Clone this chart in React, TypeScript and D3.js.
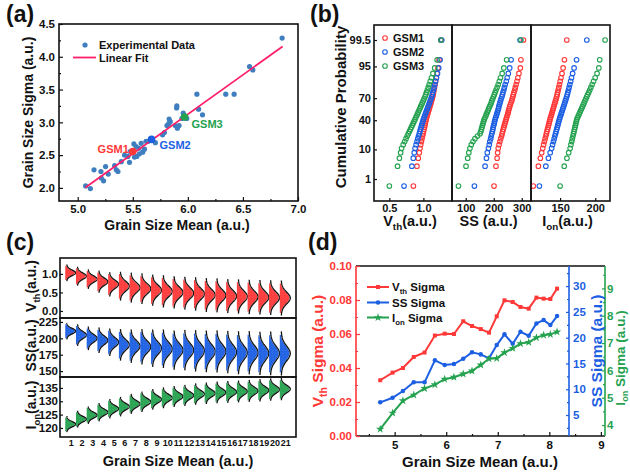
import * as d3 from "d3";
import { useEffect, useRef } from "react";

const FONT = "'Liberation Sans', Arial, Helvetica, sans-serif";
const INK = "#111";
const RED = "#ff3838";
const BLUE = "#1c5fe3";
const GREEN = "#25a24f";
const DOT = "#3f7fc0";
const FIT = "#ff1f68";

// ---------- (a) grain size mean vs sigma ----------
const grainMean = [5.072, 5.115, 5.148, 5.211, 5.214, 5.235, 5.253, 5.277, 5.335, 5.35, 5.365, 5.395, 5.425, 5.455, 5.47, 5.476, 5.51, 5.515, 5.53, 5.536, 5.554, 5.56, 5.576, 5.59, 5.606, 5.62, 5.64, 5.705, 5.77, 5.787, 5.81, 5.826, 5.83, 5.84, 5.886, 5.898, 5.9, 5.905, 5.92, 5.946, 5.958, 5.99, 6.082, 6.097, 6.133, 6.344, 6.42, 6.56, 6.59, 6.856];
const grainSigma = [2.03, 1.99, 2.275, 2.25, 2.15, 2.107, 2.325, 2.21, 2.34, 2.275, 2.25, 2.4, 2.5, 2.48, 2.39, 2.555, 2.67, 2.47, 2.63, 2.48, 2.605, 2.52, 2.68, 2.545, 2.59, 2.71, 2.71, 2.69, 2.81, 2.845, 2.95, 2.98, 3.05, 3.01, 2.95, 3.22, 3.25, 2.91, 2.95, 3.06, 3.14, 3.06, 3.43, 3.2, 3.115, 3.43, 3.43, 3.85, 3.8, 4.285];
const fitX = [5.07, 6.86];
const fitY = [2.005, 4.157];
const gsmNames = ["GSM1", "GSM2", "GSM3"];
const gsmMean = [5.5, 5.67, 5.97];
const gsmSigma = [2.555, 2.74, 3.08];

// ---------- (b) cumulative probability ----------
const probTicks = [1, 10, 40, 70, 95, 99.5];
const vthGSM1 = [0.853, 0.905, 0.925, 0.939, 0.95, 0.961, 0.971, 0.979, 0.988, 0.995, 1.002, 1.009, 1.016, 1.022, 1.028, 1.034, 1.04, 1.047, 1.055, 1.063, 1.071, 1.079, 1.087, 1.095, 1.103, 1.111, 1.119, 1.128, 1.137, 1.143, 1.149, 1.156, 1.163, 1.171, 1.179, 1.189, 1.201, 1.214, 1.23, 1.256];
const vthGSM2 = [0.716, 0.831, 0.852, 0.866, 0.878, 0.893, 0.906, 0.918, 0.929, 0.94, 0.949, 0.958, 0.967, 0.975, 0.984, 0.992, 1.0, 1.009, 1.019, 1.029, 1.039, 1.049, 1.059, 1.068, 1.079, 1.089, 1.1, 1.111, 1.122, 1.13, 1.138, 1.147, 1.157, 1.167, 1.179, 1.192, 1.207, 1.225, 1.245, 1.27];
const vthGSM3 = [0.5, 0.621, 0.648, 0.666, 0.68, 0.704, 0.725, 0.745, 0.763, 0.779, 0.795, 0.81, 0.824, 0.838, 0.851, 0.864, 0.877, 0.889, 0.901, 0.913, 0.924, 0.936, 0.948, 0.96, 0.972, 0.984, 0.997, 1.01, 1.024, 1.035, 1.046, 1.058, 1.071, 1.085, 1.101, 1.118, 1.14, 1.166, 1.202, 1.256];
const ssGSM1 = [201, 208, 212, 214, 216, 219, 222, 225, 228, 230, 232, 234, 236, 238, 240, 242, 244, 246, 248, 250, 252, 253, 255, 257, 259, 261, 264, 266, 268, 270, 272, 275, 277, 280, 283, 286, 290, 295, 297, 306];
const ssGSM2 = [131, 169, 174, 177, 181, 184, 186, 189, 191, 193, 195, 197, 198, 200, 202, 203, 205, 207, 209, 211, 213, 215, 217, 218, 220, 222, 224, 226, 229, 231, 233, 236, 238, 241, 245, 248, 252, 257, 262, 294];
const ssGSM3 = [74, 101, 107, 111, 115, 120, 126, 133, 142, 151, 154, 156, 158, 160, 162, 164, 166, 169, 172, 174, 177, 180, 182, 185, 188, 191, 193, 196, 199, 202, 205, 208, 212, 216, 220, 224, 230, 236, 246, 297];
const ionGSM1 = [111.9, 119.1, 121.9, 123.8, 125.3, 126.5, 127.7, 128.7, 129.7, 130.5, 131.3, 132.1, 132.9, 133.6, 134.3, 135.0, 135.7, 136.4, 137.2, 138.0, 138.7, 139.5, 140.2, 141.0, 141.8, 142.6, 143.4, 144.3, 145.1, 145.8, 146.5, 147.3, 148.2, 149.1, 150.1, 151.3, 152.7, 154.3, 156.2, 159.5];
const ionGSM2 = [120.5, 129.7, 133.4, 135.9, 137.9, 139.3, 140.5, 141.6, 142.6, 143.5, 144.4, 145.2, 146.0, 146.8, 147.5, 148.2, 149.0, 149.8, 150.6, 151.5, 152.3, 153.2, 154.0, 154.9, 155.8, 156.6, 157.5, 158.4, 159.4, 160.2, 161.0, 161.9, 162.8, 163.8, 165.0, 166.2, 167.8, 169.9, 173.4, 188.0];
const ionGSM3 = [150.0, 155.9, 159.7, 162.2, 164.3, 165.4, 166.5, 167.4, 168.3, 169.1, 169.8, 170.5, 171.2, 171.9, 172.5, 173.2, 173.8, 174.9, 176.0, 177.2, 178.3, 179.4, 180.6, 181.8, 183.0, 184.1, 185.3, 186.6, 187.9, 189.2, 190.7, 192.2, 193.8, 195.6, 197.6, 199.9, 202.6, 205.1, 206.4, 214.0];

// ---------- (c) distributions per grain size group ----------
const groupLabels = [1, 2, 3, 4, 5, 6, 7, 8, 9, 10, 11, 12, 13, 14, 15, 16, 17, 18, 19, 20, 21];
const vthMeanC = [1.03, 0.94, 0.86, 0.79, 0.72, 0.67, 0.63, 0.6, 0.56, 0.53, 0.5, 0.48, 0.46, 0.43, 0.42, 0.4, 0.39, 0.38, 0.37, 0.36, 0.35];
const vthSdC = [0.075, 0.085, 0.088, 0.1, 0.11, 0.13, 0.135, 0.138, 0.14, 0.145, 0.145, 0.148, 0.15, 0.152, 0.153, 0.153, 0.154, 0.155, 0.155, 0.156, 0.157];
const ssMeanC = [211, 205, 200, 197, 194, 190, 188, 187, 185, 184, 182, 182, 181, 180, 180, 179, 178, 178, 177, 177, 177];
const ssSdC = [4.2, 5.5, 6.0, 6.5, 7.0, 8.0, 8.5, 9.0, 9.5, 9.8, 10.0, 10.3, 10.5, 10.6, 10.7, 10.8, 10.9, 11.0, 11.0, 11.1, 11.2];
const ionMeanC = [121.4, 123.3, 124.8, 125.9, 127.2, 128.0, 129.0, 129.8, 130.7, 131.3, 131.8, 132.2, 132.7, 133.0, 133.3, 133.5, 133.7, 133.9, 134.1, 134.4, 134.6];
const ionSdC = [1.0, 1.05, 1.1, 1.15, 1.2, 1.22, 1.25, 1.27, 1.28, 1.3, 1.31, 1.32, 1.33, 1.34, 1.35, 1.36, 1.37, 1.38, 1.39, 1.4, 1.4];

// ---------- (d) sigma vs grain size mean ----------
const gsMeanD = [4.72, 4.96, 5.16, 5.37, 5.58, 5.78, 5.97, 6.15, 6.33, 6.5, 6.67, 6.83, 6.98, 7.13, 7.29, 7.44, 7.6, 7.75, 7.89, 8.02, 8.15];
const vthSigmaD = [0.0328, 0.0373, 0.04, 0.0465, 0.0491, 0.0591, 0.0602, 0.06, 0.0675, 0.0647, 0.0629, 0.0608, 0.0704, 0.0798, 0.0788, 0.0759, 0.0749, 0.0814, 0.0808, 0.0806, 0.0867];
const ssSigmaD = [7.46, 8.35, 9.65, 11.34, 11.34, 15.6, 14.69, 14.88, 15.91, 17.15, 16.76, 15.99, 18.57, 20.64, 18.82, 21.14, 20.37, 22.77, 23.41, 22.44, 24.19];
const ionSigmaD = [3.85, 4.44, 4.89, 5.1, 5.34, 5.48, 5.68, 5.75, 5.87, 5.98, 6.2, 6.43, 6.44, 6.65, 6.81, 6.98, 7.03, 7.2, 7.29, 7.32, 7.41];

// inverse normal CDF (Acklam), used for the probability axis
function probit(p: number) {
  const a = [-39.69683028665376, 220.9460984245205, -275.9285104469687, 138.357751867269, -30.66479806614716, 2.506628277459239];
  const b = [-54.47609879822406, 161.5858368580409, -155.6989798598866, 66.80131188771972, -13.28068155288572];
  const c = [-0.007784894002430293, -0.3223964580411365, -2.400758277161838, -2.549732539343734, 4.374664141464968, 2.938163982698783];
  const d = [0.007784695709041462, 0.3224671290700398, 2.445134137142996, 3.754408661907416];
  const lo = 0.02425;
  if (p < lo || p > 1 - lo) {
    const q = Math.sqrt(-2 * Math.log(p < lo ? p : 1 - p));
    const v = (((((c[0] * q + c[1]) * q + c[2]) * q + c[3]) * q + c[4]) * q + c[5]) / ((((d[0] * q + d[1]) * q + d[2]) * q + d[3]) * q + 1);
    return p < lo ? v : -v;
  }
  const q = p - 0.5, r = q * q;
  return ((((((a[0] * r + a[1]) * r + a[2]) * r + a[3]) * r + a[4]) * r + a[5]) * q) / (((((b[0] * r + b[1]) * r + b[2]) * r + b[3]) * r + b[4]) * r + 1);
}

function styleAxis(sel: any, size: number, color = INK) {
  sel.attr("font-family", FONT);
  sel.select(".domain").remove();
  sel.selectAll(".tick line").attr("stroke", color).attr("stroke-width", 1.2);
  sel.selectAll(".tick text").attr("font-size", size).attr("font-weight", "bold").attr("fill", color);
  return sel;
}

function text(g: any, x: number, y: number, parts: any, size: number, opt: any = {}) {
  const t = g.append("text")
    .attr("x", x).attr("y", y)
    .attr("font-family", FONT).attr("font-weight", "bold")
    .attr("font-size", size)
    .attr("fill", opt.fill || INK)
    .attr("text-anchor", opt.anchor || "start");
  if (opt.rotate) t.attr("transform", `rotate(${opt.rotate},${x},${y})`);
  const list = typeof parts === "string" ? [[parts, false]] : parts;
  const shift = size * (opt.subShift ?? 0.28);
  let wasSub = false;
  list.forEach(([s, sub]: [string, boolean]) => {
    const ts = t.append("tspan").text(s);
    if (sub) ts.attr("font-size", size * 0.68).attr("dy", shift);
    else if (wasSub) ts.attr("dy", -shift);
    wasSub = sub;
  });
  return t;
}

function drawA(svg: any) {
  const L = 59, R = 298, T = 24, B = 201;
  const x = d3.scaleLinear().domain([4.83, 7.0]).range([L, R]);
  const y = d3.scaleLinear().domain([1.8, 4.5]).range([B, T]);
  const g = svg.append("g");

  styleAxis(g.append("g").attr("transform", `translate(0,${B})`)
    .call(d3.axisBottom(x).tickValues([5, 5.5, 6, 6.5, 7]).tickFormat(d3.format(".1f")).tickSizeInner(-4).tickSizeOuter(0).tickPadding(4)), 11.5);
  styleAxis(g.append("g").attr("transform", `translate(0,${B})`)
    .call(d3.axisBottom(x).tickValues([5.25, 5.75, 6.25, 6.75]).tickFormat(() => "").tickSizeInner(-2).tickSizeOuter(0)), 11.5);
  styleAxis(g.append("g").attr("transform", `translate(${L},0)`)
    .call(d3.axisLeft(y).tickValues([2, 2.5, 3, 3.5, 4, 4.5]).tickFormat(d3.format(".1f")).tickSizeInner(-4).tickSizeOuter(0).tickPadding(4)), 11.5);
  styleAxis(g.append("g").attr("transform", `translate(${L},0)`)
    .call(d3.axisLeft(y).tickValues([2.25, 2.75, 3.25, 3.75, 4.25]).tickFormat(() => "").tickSizeInner(-2).tickSizeOuter(0)), 11.5);

  g.append("g").selectAll("circle").data(grainMean).join("circle")
    .attr("cx", (d: number) => x(d)).attr("cy", (_: number, i: number) => y(grainSigma[i]))
    .attr("r", 2.6).attr("fill", DOT);

  g.append("line")
    .attr("x1", x(fitX[0])).attr("y1", y(fitY[0])).attr("x2", x(fitX[1])).attr("y2", y(fitY[1]))
    .attr("stroke", FIT).attr("stroke-width", 1.8);

  const cols = [RED, BLUE, GREEN];
  const dx = [-4, 8, 7], dy = [1, 10, 11], anc = ["end", "start", "start"];
  gsmMean.forEach((m, i) => {
    g.append("circle").attr("cx", x(m)).attr("cy", y(gsmSigma[i])).attr("r", 3.8).attr("fill", cols[i]);
    text(g, x(m) + dx[i], y(gsmSigma[i]) + dy[i], gsmNames[i], 11, { fill: cols[i], anchor: anc[i] });
  });

  // legend
  g.append("circle").attr("cx", 85).attr("cy", 45).attr("r", 2.6).attr("fill", DOT);
  text(g, 99, 49, "Experimental Data", 11);
  g.append("line").attr("x1", 73).attr("x2", 96).attr("y1", 57.5).attr("y2", 57.5).attr("stroke", FIT).attr("stroke-width", 1.8);
  text(g, 99, 61.5, "Linear Fit", 11);

  g.append("rect").attr("x", L).attr("y", T).attr("width", R - L).attr("height", B - T)
    .attr("fill", "none").attr("stroke", INK).attr("stroke-width", 1.6);

  text(g, 6, 22, "(a)", 23);
  text(g, 33, (T + B) / 2, "Grain Size Sigma (a.u.)", 14, { anchor: "middle", rotate: -90 });
  text(g, 177, 230, "Grain Size Mean (a.u.)", 14, { anchor: "middle" });
}

function drawB(svg: any) {
  const T = 25, B = 201;
  const y = d3.scaleLinear().domain([-3.102, 3.105]).range([B, T]);
  const cols = [RED, BLUE, GREEN];
  const panels = [
    { L: 374, R: 452, dom: [0.275, 1.42], ticks: [0.5, 1.0], fmt: ".1f", series: [vthGSM1, vthGSM2, vthGSM3], title: [["V", false], ["th", true], ["(a.u.)", false]] },
    { L: 452, R: 531, dom: [51, 333], ticks: [100, 200, 300], fmt: "d", series: [ssGSM1, ssGSM2, ssGSM3], title: [["SS (a.u.)", false]] },
    { L: 531, R: 610, dom: [108.6, 221], ticks: [150, 200], fmt: "d", series: [ionGSM1, ionGSM2, ionGSM3], title: [["I", false], ["on", true], ["(a.u.)", false]] },
  ];
  const g = svg.append("g");
  panels.forEach((pn) => {
    const x = d3.scaleLinear().domain(pn.dom).range([pn.L, pn.R]);
    styleAxis(g.append("g").attr("transform", `translate(0,${B})`)
      .call(d3.axisBottom(x).tickValues(pn.ticks).tickFormat(d3.format(pn.fmt)).tickSizeInner(-3).tickSizeOuter(0).tickPadding(3)), 11);
    pn.series.forEach((s, k) => {
      const n = s.length;
      g.append("g").selectAll("circle").data(s).join("circle")
        .attr("cx", (d: number) => x(d))
        .attr("cy", (_: number, i: number) => y(probit(0.005 + (i * 0.99) / (n - 1))))
        .attr("r", 2.3).attr("fill", "none").attr("stroke", cols[k]).attr("stroke-width", 1.1);
    });
    g.append("rect").attr("x", pn.L).attr("y", T).attr("width", pn.R - pn.L).attr("height", B - T)
      .attr("fill", "none").attr("stroke", INK).attr("stroke-width", 1.6);
    text(g, (pn.L + pn.R) / 2 - 3, 226, pn.title, 14.5, { anchor: "middle" });
  });
  styleAxis(g.append("g").attr("transform", `translate(374,0)`)
    .call(d3.axisLeft(y).tickValues(probTicks.map((t) => probit(t / 100))).tickFormat((_: any, i: number) => String(probTicks[i])).tickSizeInner(-3).tickSizeOuter(0).tickPadding(3)), 11);

  gsmNames.forEach((nm, i) => {
    g.append("circle").attr("cx", 385).attr("cy", 38 + i * 14).attr("r", 2.3).attr("fill", "none").attr("stroke", cols[i]).attr("stroke-width", 1.1);
    text(g, 393, 42 + i * 14, nm, 11);
  });

  text(g, 310, 22, "(b)", 23);
  text(g, 346, (T + B) / 2 - 6, "Cumulative Probability", 15, { anchor: "middle", rotate: -90 });
}

function drawC(svg: any) {
  const L = 60, R = 296;
  const x = d3.scaleLinear().domain([0, 22]).range([L, R]);
  const rows = [
    { T: 258, B: 318, dom: [-0.19, 1.43], ticks: [0, 0.5, 1.0], fmt: ".1f", means: vthMeanC, sds: vthSdC, color: RED, title: [["V", false], ["th", true], ["(a.u.)", false]] },
    { T: 318, B: 377, dom: [141, 231], ticks: [150, 175, 200, 225], fmt: "d", means: ssMeanC, sds: ssSdC, color: BLUE, title: [["SS(a.u.)", false]] },
    { T: 377, B: 437, dom: [116.6, 139.1], ticks: [120, 125, 130, 135], fmt: "d", means: ionMeanC, sds: ionSdC, color: GREEN, title: [["I", false], ["on", true], ["(a.u.)", false]] },
  ];
  const g = svg.append("g");
  const defs = g.append("defs");
  const ts = d3.range(-3, 3.001, 0.1);
  rows.forEach((rw, ri) => {
    const y = d3.scaleLinear().domain(rw.dom).range([rw.B, rw.T]);
    const clipId = `clipc${ri}`;
    defs.append("clipPath").attr("id", clipId).append("rect").attr("x", L).attr("y", rw.T).attr("width", R - L).attr("height", rw.B - rw.T);
    // speckled fill imitating the overlaid raw points
    const pat = defs.append("pattern").attr("id", `spk${ri}`).attr("patternUnits", "userSpaceOnUse").attr("width", 3.4).attr("height", 2.8);
    pat.append("rect").attr("width", 3.4).attr("height", 2.8).attr("fill", rw.color);
    pat.append("circle").attr("cx", 0.9).attr("cy", 0.8).attr("r", 0.45).attr("fill", "#fff").attr("opacity", 0.75);
    pat.append("circle").attr("cx", 2.6).attr("cy", 2.1).attr("r", 0.35).attr("fill", "#fff").attr("opacity", 0.5);
    const body = g.append("g").attr("clip-path", `url(#${clipId})`);
    groupLabels.forEach((lab, i) => {
      const base = x(lab) - 4;
      const pts = ts.map((t) => [base + 9 * Math.exp(-0.5 * t * t), y(rw.means[i] + t * rw.sds[i])]);
      const area = d3.area().x0(base - 1.5).x1((p: any) => p[0] - 0.8).y((p: any) => p[1]);
      body.append("path").attr("d", area(pts.filter((_, k) => Math.abs(ts[k]) <= 2.6) as any)).attr("fill", `url(#spk${ri})`);
      body.append("path").attr("d", d3.line()(pts as any)).attr("fill", "none").attr("stroke", INK).attr("stroke-width", 1.3);
    });
    styleAxis(g.append("g").attr("transform", `translate(${L},0)`)
      .call(d3.axisLeft(y).tickValues(rw.ticks).tickFormat(d3.format(rw.fmt)).tickSizeInner(-3).tickSizeOuter(0).tickPadding(2)), 11.5);
    g.append("rect").attr("x", L).attr("y", rw.T).attr("width", R - L).attr("height", rw.B - rw.T)
      .attr("fill", "none").attr("stroke", INK).attr("stroke-width", 1.6);
    text(g, 36, (rw.T + rw.B) / 2 - 2, rw.title, 14, { anchor: "middle", rotate: -90 });
  });
  styleAxis(g.append("g").attr("transform", `translate(0,437)`)
    .call(d3.axisBottom(x).tickValues(groupLabels).tickFormat(d3.format("d")).tickSize(0).tickPadding(3)), 9);

  text(g, 6, 250, "(c)", 23);
  text(g, 178, 466, "Grain Size Mean (a.u.)", 14.5, { anchor: "middle" });
}

function drawD(svg: any) {
  const L = 356, R = 605, T = 266, B = 436, BLUE_AX = 569;
  const x = d3.scaleLinear().domain([4.25, 9.08]).range([L, R]);
  const yR = d3.scaleLinear().domain([0, 0.1]).range([B, T]);
  const yB = d3.scaleLinear().domain([0.93, 33.9]).range([B, T]);
  const yG = d3.scaleLinear().domain([3.6, 9.82]).range([B, T]);
  const g = svg.append("g");

  const series = [
    { vals: vthSigmaD, y: yR, color: RED, sym: d3.symbolSquare, size: 16 },
    { vals: ssSigmaD, y: yB, color: BLUE, sym: d3.symbolCircle, size: 16 },
    { vals: ionSigmaD, y: yG, color: GREEN, sym: d3.symbolStar, size: 22 },
  ];
  series.forEach((s) => {
    const line = d3.line<number>().x((_, i) => x(gsMeanD[i])).y((d) => s.y(d));
    g.append("path").attr("d", line(s.vals)).attr("fill", "none").attr("stroke", s.color).attr("stroke-width", 2);
    g.append("g").selectAll("path").data(s.vals).join("path")
      .attr("transform", (d: number, i: number) => `translate(${x(gsMeanD[i])},${s.y(d)})`)
      .attr("d", d3.symbol(s.sym, s.size)()).attr("fill", s.color);
  });

  // bottom axis
  styleAxis(g.append("g").attr("transform", `translate(0,${B})`)
    .call(d3.axisBottom(x).tickValues([5, 6, 7, 8, 9]).tickFormat(d3.format("d")).tickSizeInner(-4).tickSizeOuter(0).tickPadding(5)), 11.5);
  styleAxis(g.append("g").attr("transform", `translate(0,${B})`)
    .call(d3.axisBottom(x).tickValues([4.5, 5.5, 6.5, 7.5, 8.5]).tickFormat(() => "").tickSizeInner(-2).tickSizeOuter(0)), 11.5);
  g.append("line").attr("x1", L).attr("x2", R).attr("y1", B).attr("y2", B).attr("stroke", INK).attr("stroke-width", 1.6);
  g.append("line").attr("x1", L).attr("x2", R).attr("y1", T).attr("y2", T).attr("stroke", INK).attr("stroke-width", 1.6);

  // red left axis
  styleAxis(g.append("g").attr("transform", `translate(${L},0)`)
    .call(d3.axisLeft(yR).tickValues([0, 0.02, 0.04, 0.06, 0.08, 0.1]).tickFormat(d3.format(".2f")).tickSizeInner(-4).tickSizeOuter(0).tickPadding(4)), 11.5, RED);
  styleAxis(g.append("g").attr("transform", `translate(${L},0)`)
    .call(d3.axisLeft(yR).tickValues([0.01, 0.03, 0.05, 0.07, 0.09]).tickFormat(() => "").tickSizeInner(-2).tickSizeOuter(0)), 11.5, RED);
  g.append("line").attr("x1", L).attr("x2", L).attr("y1", T).attr("y2", B).attr("stroke", RED).attr("stroke-width", 1.6);

  // blue axis inside the plot
  styleAxis(g.append("g").attr("transform", `translate(${BLUE_AX},0)`)
    .call(d3.axisRight(yB).tickValues([5, 10, 15, 20, 25, 30]).tickFormat(d3.format("d")).tickSizeInner(-3).tickSizeOuter(0).tickPadding(4)), 11.5, BLUE);
  styleAxis(g.append("g").attr("transform", `translate(${BLUE_AX},0)`)
    .call(d3.axisRight(yB).tickValues([2.5, 7.5, 12.5, 17.5, 22.5, 27.5, 32.5]).tickFormat(() => "").tickSizeInner(-2).tickSizeOuter(0)), 11.5, BLUE);
  g.append("line").attr("x1", BLUE_AX).attr("x2", BLUE_AX).attr("y1", T).attr("y2", B).attr("stroke", BLUE).attr("stroke-width", 1.6);

  // green right axis
  styleAxis(g.append("g").attr("transform", `translate(${R},0)`)
    .call(d3.axisRight(yG).tickValues([4, 5, 6, 7, 8, 9]).tickFormat(d3.format("d")).tickSizeInner(-3).tickSizeOuter(0).tickPadding(2)), 11.5, GREEN);
  styleAxis(g.append("g").attr("transform", `translate(${R},0)`)
    .call(d3.axisRight(yG).tickValues([4.5, 5.5, 6.5, 7.5, 8.5, 9.5]).tickFormat(() => "").tickSizeInner(-2).tickSizeOuter(0)), 11.5, GREEN);
  g.append("line").attr("x1", R).attr("x2", R).attr("y1", T).attr("y2", B).attr("stroke", GREEN).attr("stroke-width", 1.6);

  // legend
  const legend = [
    [[["V", false], ["th", true], [" Sigma", false]], 287],
    [[["SS Sigma", false]], 302.5],
    [[["I", false], ["on", true], ["  Sigma", false]], 317.5],
  ];
  legend.forEach(([parts, ly]: any, i) => {
    const s = series[i];
    g.append("line").attr("x1", 367).attr("x2", 389).attr("y1", ly).attr("y2", ly).attr("stroke", s.color).attr("stroke-width", 2);
    g.append("path").attr("transform", `translate(378,${ly})`).attr("d", d3.symbol(s.sym, s.size)()).attr("fill", s.color);
    text(g, 392, ly + 4, parts, 11.5);
  });

  text(g, 308, 250, "(d)", 23);
  text(g, 480, 467, "Grain Size Mean (a.u.)", 15, { anchor: "middle" });
  text(g, 323, 351, [["V", false], ["th", true], [" Sigma (a.u.)", false]], 15.5, { anchor: "middle", rotate: -90, fill: RED });
  text(g, 602, 351, "SS Sigma (a.u.)", 15.5, { anchor: "middle", rotate: -90, fill: BLUE });
  text(g, 625, 358, [["I", false], ["on", true], [" Sigma (a.u.)", false]], 13.5, { anchor: "middle", rotate: -90, fill: GREEN, subShift: 0.2 });
}

export default function App() {
  const ref = useRef<SVGSVGElement>(null);

  useEffect(() => {
    const svg = d3.select(ref.current);
    svg.selectAll("*").remove();
    drawA(svg);
    drawB(svg);
    drawC(svg);
    drawD(svg);
  }, []);

  return (
    <svg
      ref={ref}
      width={630}
      height={475}
      style={{ position: "absolute", left: 0, top: 0, background: "#fff" }}
    />
  );
}
